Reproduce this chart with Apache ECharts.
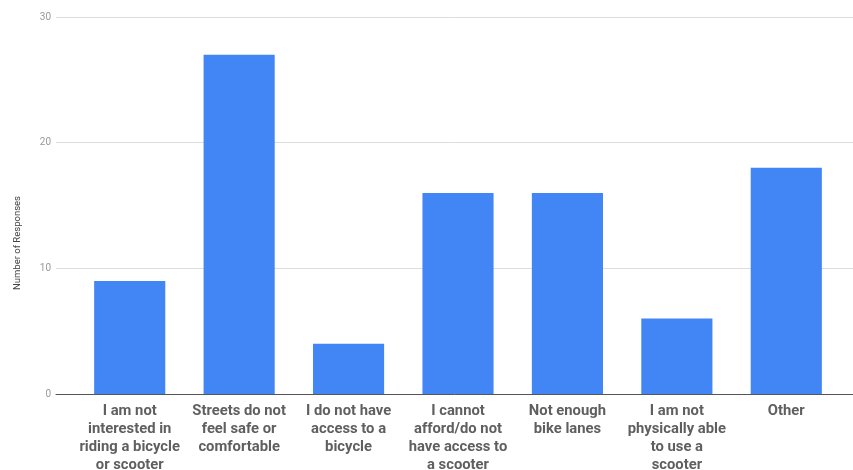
<!DOCTYPE html>
<html><head><meta charset="utf-8">
<script src="https://cdn.jsdelivr.net/npm/echarts@6/dist/echarts.min.js"></script>
<style>html,body{margin:0;padding:0;background:#fff}#c{width:853px;height:470px}</style>
</head><body><div id="c"></div>
<script>
const categories = [
  "I am not\ninterested in\nriding a bicycle\nor scooter",
  "Streets do not\nfeel safe or\ncomfortable",
  "I do not have\naccess to a\nbicycle",
  "I cannot\nafford/do not\nhave access to\na scooter",
  "Not enough\nbike lanes",
  "I am not\nphysically able\nto use a\nscooter",
  "Other"
];
const responses = [9, 27, 4, 16, 16, 6, 18];
const yTicks = [0, 10, 20, 30];
const yTitle = "Number of Responses";

const chart = echarts.init(document.getElementById('c'), null, {renderer: 'canvas'});
chart.setOption({
  animation: false,
  graphic: [{
    type: 'text', x: 18, y: 243, rotation: Math.PI / 2,
    style: {text: yTitle, fill: '#444', font: '9.5px Roboto', align: 'center', verticalAlign: 'middle'}
  }],
  grid: [
    {left: 56, right: 0, top: 17, bottom: 76, containLabel: false, outerBoundsMode: 'none'},
    {left: 75, right: 12, top: 17, bottom: 76, containLabel: false, outerBoundsMode: 'none'}
  ],
  xAxis: [
    {gridIndex: 0, type: 'category', data: [''], axisLine: {show: true, lineStyle: {color: '#555', width: 1}},
     axisTick: {show: false}, axisLabel: {show: false}},
    {gridIndex: 1, type: 'category', data: categories, axisLine: {show: false}, axisTick: {show: false},
     axisLabel: {interval: 0, margin: 8, color: '#5f5f5f', fontFamily: 'Roboto', fontWeight: 'bold', fontSize: 14.8, lineHeight: 18}}
  ],
  yAxis: [
    {gridIndex: 0, type: 'value', min: yTicks[0], max: yTicks[yTicks.length-1], interval: 10,
     axisLine: {show: false}, axisTick: {show: false},
     axisLabel: {color: '#999', fontFamily: 'Roboto', fontSize: 10, margin: 5},
     splitLine: {show: true, lineStyle: {color: '#ddd', width: 1}}},
    {gridIndex: 1, type: 'value', min: yTicks[0], max: yTicks[yTicks.length-1], interval: 10,
     show: false, splitLine: {show: false}}
  ],
  series: [{
    type: 'bar', xAxisIndex: 1, yAxisIndex: 1, data: responses,
    barWidth: '65%', itemStyle: {color: '#4285F4'}
  }]
});
</script></body></html>
